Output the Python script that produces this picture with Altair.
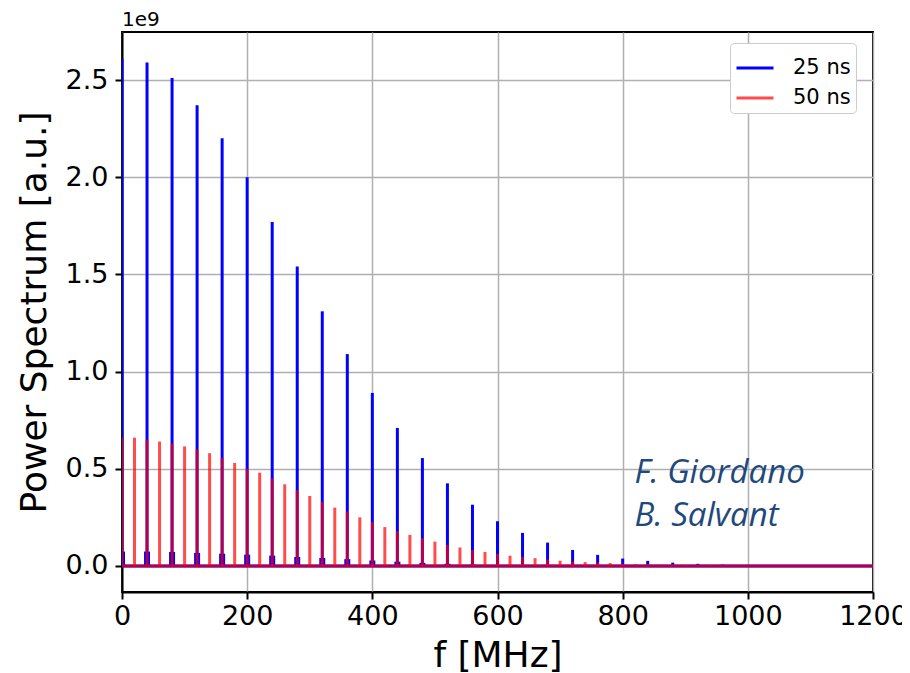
import altair as alt
import pandas as pd

# ---- data (power spectrum peaks, units of 1e9 a.u.) ----
SERIES = ["25 ns", "50 ns"]
COLORS = ["#0000ff", "#ff0000"]
OPACITY = [1.0, 0.7]

F_RANGE = [0, 1200]  # frequency span of the computed spectra [MHz]

f_25 = [0, 40, 80, 120, 160, 200, 240, 280, 320, 360, 400, 440, 480, 520, 560, 600,
        640, 680, 720, 760, 800, 840, 880, 920, 960, 1000, 1040, 1080, 1120, 1160, 1200]
p_25 = [2.61, 2.59, 2.51, 2.37, 2.20, 2.00, 1.77, 1.54, 1.31, 1.09, 0.89, 0.71, 0.555, 0.425,
        0.315, 0.23, 0.17, 0.12, 0.082, 0.057, 0.038, 0.026, 0.017, 0.011, 0.007, 0.004,
        0.003, 0.002, 0.001, 0.001, 0.0005]
# broadened base of the 25 ns harmonics
f_25_base = [0, 40, 80, 120, 160, 200, 240, 280, 320, 360, 400, 440, 480, 520, 560, 600]
p_25_base = [0.074, 0.074, 0.072, 0.067, 0.063, 0.058, 0.053, 0.046, 0.041, 0.035,
             0.028, 0.022, 0.016, 0.011, 0.007, 0.005]

f_50 = [0, 20, 40, 60, 80, 100, 120, 140, 160, 180, 200, 220, 240, 260, 280, 300, 320, 340,
        360, 380, 400, 420, 440, 460, 480, 500, 520, 540, 560, 580, 600, 620, 640, 660, 680,
        700, 720, 740, 760, 780, 800, 820, 840, 860, 880, 900, 920, 940, 960, 980, 1000]
p_50 = [0.66, 0.66, 0.65, 0.64, 0.63, 0.615, 0.60, 0.58, 0.555, 0.53, 0.50, 0.48, 0.45, 0.42,
        0.39, 0.36, 0.33, 0.30, 0.28, 0.25, 0.226, 0.20, 0.18, 0.16, 0.143, 0.125, 0.108,
        0.095, 0.082, 0.072, 0.062, 0.053, 0.046, 0.04, 0.033, 0.027, 0.023, 0.02, 0.017,
        0.015, 0.012, 0.01, 0.008, 0.007, 0.006, 0.004, 0.003, 0.003, 0.002, 0.002, 0.001]

AUTHORS = ["F. Giordano", "B. Salvant"]
AUTHOR_F = [819, 819]
AUTHOR_P = [0.427, 0.206]

X_TICKS = [0, 200, 400, 600, 800, 1000, 1200]
Y_TICKS = [0.0, 0.5, 1.0, 1.5, 2.0, 2.5]
Y_DOMAIN = [-0.134, 2.747]

# ---- tables ----
peaks = pd.concat([
    pd.DataFrame({"f": f_25, "p": p_25, "series": SERIES[0]}),
    pd.DataFrame({"f": f_50, "p": p_50, "series": SERIES[1]}),
])
peaks["zero"] = 0.0
base25 = pd.DataFrame({"f": f_25_base, "p": p_25_base, "series": SERIES[0], "zero": 0.0})
baseline = pd.DataFrame({"series": SERIES, "f0": [F_RANGE[0]] * 2, "f1": [F_RANGE[1]] * 2,
                         "zero": [0.0, 0.0]})
authors = pd.DataFrame({"f": AUTHOR_F, "p": AUTHOR_P, "t": AUTHORS})

FONT = "DejaVu Sans"

xs = alt.Scale(domain=F_RANGE, nice=False, zero=False)
ys = alt.Scale(domain=Y_DOMAIN, nice=False, zero=False)
color = alt.Color("series:N", title=None,
                  scale=alt.Scale(domain=SERIES, range=COLORS),
                  legend=alt.Legend(orient="none", legendX=608, legendY=11))
opac = alt.Opacity("series:N", title=None,
                   scale=alt.Scale(domain=SERIES, range=OPACITY),
                   legend=alt.Legend(orient="none", legendX=608, legendY=11))

x_axis = alt.Axis(values=X_TICKS, format="d", title="f [MHz]", grid=True,
                  gridColor="#b0b0b0", gridWidth=1.5, labelFontSize=27, labelFont=FONT,
                  labelColor="black", titleFontSize=36, titleFont=FONT,
                  titleFontWeight="normal", titleColor="black",
                  titleBaseline="alphabetic", titleY=74,
                  tickSize=7, tickWidth=2, tickColor="black", domainColor="black",
                  domainWidth=2, labelPadding=4, labelFlush=False)
y_axis = alt.Axis(values=Y_TICKS, format=".1f", title="Power Spectrum [a.u.]", grid=True,
                  gridColor="#b0b0b0", gridWidth=1.5, labelFontSize=27, labelFont=FONT,
                  labelColor="black", titleFontSize=36, titleFont=FONT,
                  titleFontWeight="normal", titleColor="black", titleAngle=270,
                  titleAlign="center", titleBaseline="alphabetic", titleX=-77, titleY=280,
                  tickSize=7, tickWidth=2, tickColor="black", domainColor="black",
                  domainWidth=2, labelPadding=7, labelFlush=False)


def spikes(df, width):
    return alt.Chart(df).mark_rule(strokeWidth=width, clip=True).encode(
        x=alt.X("f:Q", scale=xs), y=alt.Y("zero:Q", scale=ys), y2="p:Q",
        color=color, opacity=opac)


def floor_line(df, with_axes=False):
    if with_axes:
        x = alt.X("f0:Q", scale=xs, axis=x_axis)
        y = alt.Y("zero:Q", scale=ys, axis=y_axis)
    else:
        x = alt.X("f0:Q", scale=xs)
        y = alt.Y("zero:Q", scale=ys)
    return alt.Chart(df).mark_rule(strokeWidth=3, clip=True).encode(
        x=x, x2="f1:Q", y=y, color=color, opacity=opac)


blue_line = floor_line(baseline[baseline.series == SERIES[0]], with_axes=True)
blue_base = spikes(base25, 6)
blue_peaks = spikes(peaks[peaks.series == SERIES[0]], 3)
red_line = floor_line(baseline[baseline.series == SERIES[1]])
red_peaks = spikes(peaks[peaks.series == SERIES[1]], 3)

author_text = alt.Chart(authors).mark_text(
    align="left", baseline="alphabetic", font="Open Sans", fontStyle="italic",
    fontSize=33, color="#1f497d").encode(
    x=alt.X("f:Q", scale=xs), y=alt.Y("p:Q", scale=ys), text="t:N")

offset_text = alt.Chart(alt.Data(values=[{"t": "1e9"}])).mark_text(
    align="left", baseline="alphabetic", font=FONT, fontSize=20, color="black").encode(
    x=alt.value(0), y=alt.value(-6), text="t:N")

chart = alt.layer(blue_line, blue_base, blue_peaks, red_line, red_peaks,
                  author_text, offset_text).properties(
    width=751, height=560,
    autosize=alt.AutoSizeParams(type="none"),
    padding={"left": 114, "top": 24, "right": 29, "bottom": 82},
    background="white",
).configure_view(stroke="black", strokeWidth=2).configure_legend(
    symbolType="stroke", symbolSize=1369, symbolStrokeWidth=3,
    labelFontSize=21, labelFont=FONT, labelColor="black", labelLimit=300,
    fillColor="white", strokeColor="#cccccc", cornerRadius=4,
    padding=5, rowPadding=-7, labelOffset=18,
)

chart.save("out.html", embed_options={"renderer": "svg", "actions": False})
